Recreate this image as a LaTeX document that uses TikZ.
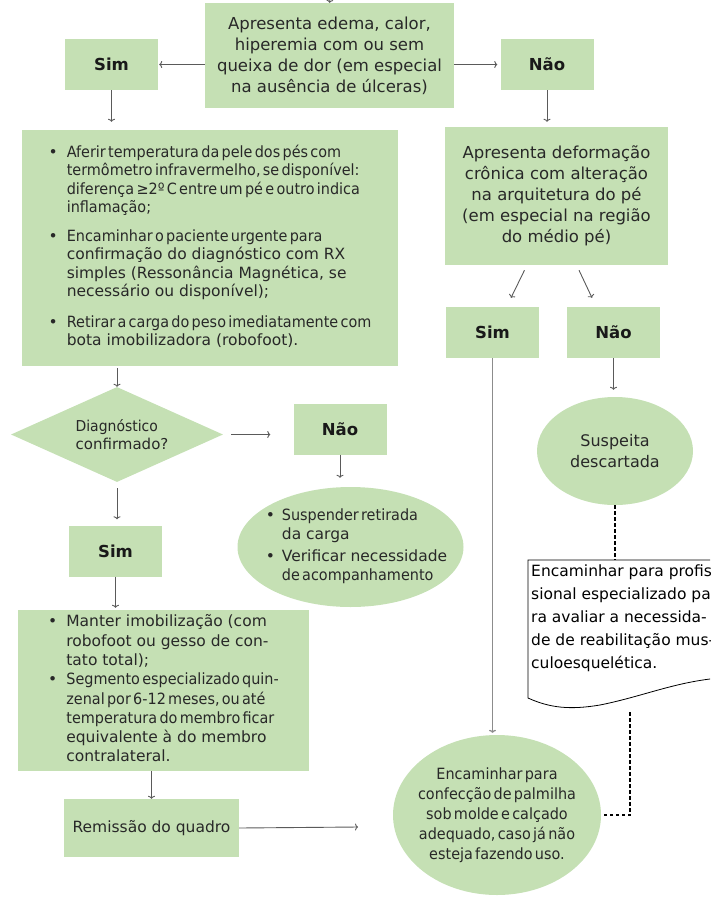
\documentclass[tikz,border=0pt]{standalone}
\usepackage{fontspec}
\setmainfont{DejaVu Sans}
\newfontfamily\cnd[FakeStretch=0.93,WordSpace=0.5]{DejaVu Sans}
\usepackage{tikz}
\usetikzlibrary{arrows.meta,positioning,calc,shapes.geometric}
\definecolor{leaf}{RGB}{197,224,180}
\definecolor{ink}{RGB}{40,40,40}
\definecolor{wire}{RGB}{90,90,90}

\begin{document}
\begin{tikzpicture}[
  x=1pt, y=-1pt,
  font=\fontsize{15.5}{18.5}\selectfont, text=ink,
  panel/.style={fill=leaf, inner sep=0pt, align=center},
  ans/.style={panel, minimum width=93pt, minimum height=51pt, text=black!90,
    font=\fontsize{16.5}{20}\selectfont\bfseries},
  blob/.style={ellipse, fill=leaf, inner sep=0pt, align=center},
  arr/.style={draw=wire, line width=0.9pt, -{To[length=3pt,width=7pt]}},
  link/.style={draw=black, line width=1.5pt, dash pattern=on 3.5pt off 2.5pt}
]
  \useasboundingbox (0,0) rectangle (710,897);
  \clip (0,0) rectangle (710,897);

  % questions
  \node[panel, minimum width=249pt, minimum height=105pt,
    font=\fontsize{16.5}{21}\selectfont] (q1) at (329.5,55.5)
    {Apresenta edema, calor,\\hiperemia com ou sem\\queixa de dor (em especial\\na ausência de úlceras)};
  \node[panel, minimum width=223pt, minimum height=138pt,
    font=\fontsize{16.5}{21}\selectfont] (q2) at (556.5,196)
    {Apresenta deformação\\crônica com alteração\\na arquitetura do pé\\(em especial na região\\do médio pé)};
  \node[diamond, fill=leaf, inner sep=0pt, shape aspect=2.6,
    minimum width=212pt, minimum height=95pt,
    align=left, font=\fontsize{15}{18}\selectfont] (diag) at (117,434.5)
    {\hspace{10pt}{\cnd Diagnóstico}\\\hspace{10pt}confirmado?};

  % answers
  \foreach \n/\p/\t in {sim1/{111.5,64.5}/Sim, nao1/{547,64.5}/Não,
                        sim2/{492.5,332.5}/Sim, nao2/{613.5,332.5}/Não,
                        nao3/{340,429}/Não, sim3/{115.5,551}/Sim}
    \node[ans] (\n) at (\p) {\t};

  % actions
  \node[panel, minimum width=376pt, minimum height=236pt] (acts) at (210,248) {%
    \begin{tabular}{@{}l@{\hspace{9pt}}l@{}}
    •&\cnd Aferir temperatura da pele dos pés com\\
     &\cnd termômetro infravermelho, se disponível:\\
     &\cnd diferença ≥2º C entre um pé e outro indica\\
     &\cnd inflamação;\\[10pt]
    •&\cnd Encaminhar o paciente urgente para\\
     &confirmação do diagnóstico com RX\\
     &simples (Ressonância Magnética, se\\
     &necessário ou disponível);\\[12pt]
    •&\cnd Retirar a carga do peso imediatamente com\\
     &bota imobilizadora (robofoot).
    \end{tabular}};
  \node[blob, minimum width=226pt, minimum height=120pt] (susp) at (350.5,547) {%
    \makebox[0pt]{\hspace{12pt}\begin{tabular}{@{}l@{\hspace{7pt}}l@{}}
    •&\cnd Suspender retirada\\
     &da carga\\[4pt]
    •&Verificar necessidade\\
     &\cnd de acompanhamento
    \end{tabular}}};
  \node[panel, minimum width=291pt, minimum height=161pt,
    font=\fontsize{15.5}{19.3}\selectfont] (manter) at (163.5,690.5) {%
    \begin{tabular}{@{}l@{\hspace{9pt}}l@{}}
    •&Manter imobilização (com\\
     &robofoot ou gesso de con-\\
     &tato total);\\
    •&\cnd Segmento especializado quin-\\
     &\cnd zenal por 6-12 meses, ou até\\
     &\cnd temperatura do membro ficar\\
     &equivalente à do membro\\
     &contralateral.
    \end{tabular}};
  \node[panel, minimum width=175pt, minimum height=58pt] (rem) at (151.5,828)
    {Remissão do quadro};
  \node[blob, minimum width=156pt, minimum height=108pt,
    font=\fontsize{16}{21}\selectfont] (desc) at (615,451) {Suspeita\\descartada};
  \node[blob, minimum width=208pt, minimum height=160pt,
    font=\cnd\fontsize{15.5}{20}\selectfont] (palm) at (497,815) {%
    \makebox[0pt]{\begin{tabular}{@{}c@{}}
    Encaminhar para\\confecção de palmilha\\sob molde e calçado\\adequado, caso já não\\esteja fazendo uso.
    \end{tabular}}};

  % referral sheet
  \draw[black, line width=0.8pt, fill=white] (528,560) -- (770,560) -- (770,676)
    -- (710,679) .. controls (670,684) and (640,697) .. (600,705)
    .. controls (570,710) and (550,708) .. (528,698) -- cycle;
  \node[anchor=north west, align=left, inner sep=0pt, text=black,
    font=\fontsize{15.5}{22.8}\selectfont] (sheet) at (531,565)
    {Encaminhar para profis-\\sional especializado pa-\\ra avaliar a necessida-\\de de reabilitação mus-\\culoesquelética.};
  \coordinate (sheettop) at (617,560);
  \coordinate (sheetfoot) at (630,712);

  % connectors
  \coordinate (entry) at (331,-12);
  \coordinate (tail) at (358,827);
  \draw[arr] (entry) -- (q1.north);
  \draw[arr, shorten >=1pt] (q1.west |- sim1.east) -- (sim1.east);
  \draw[arr, shorten >=3pt] (q1.east |- nao1.west) -- (nao1.west);
  \draw[arr, shorten >=8pt] (sim1.south) -- (sim1.south |- acts.north);
  \draw[arr, shorten >=5pt] (nao1.south) -- (nao1.south |- q2.north);
  \draw[arr, shorten <=2pt] (diag.north |- acts.south) -- (diag.north);
  \draw[arr, shorten <=8pt, shorten >=23pt] (diag.east) -- (diag.east -| nao3.west);
  \draw[arr, shorten >=9pt] (nao3.south) -- (nao3.south |- susp.north);
  \draw[arr, shorten <=6pt, shorten >=6pt] (diag.south) -- (diag.south |- sim3.north);
  \draw[arr, shorten >=2pt] (sim3.south) -- (sim3.south |- manter.north);
  \draw[arr] (rem.north |- manter.south) -- (rem.north);
  \draw[arr] (rem.east) -- (tail);
  \draw[arr] ($(q2.south)+(-32,5)$) -- ($(sim2.north)+(18.5,-9)$);
  \draw[arr] ($(q2.south)+(22.5,5)$) -- ($(nao2.north)+(-21.5,-9)$);
  \draw[arr, draw=black!45, line width=1.3pt, shorten >=2pt] (sim2.south) -- (sim2.south |- palm.north);
  \draw[arr, shorten >=7pt] (nao2.south) -- (nao2.south |- desc.north);
  \draw[link] (desc.south) -- (desc.south |- sheettop);
  \draw[link] (sheetfoot) |- (palm.east);
\end{tikzpicture}
\end{document}
